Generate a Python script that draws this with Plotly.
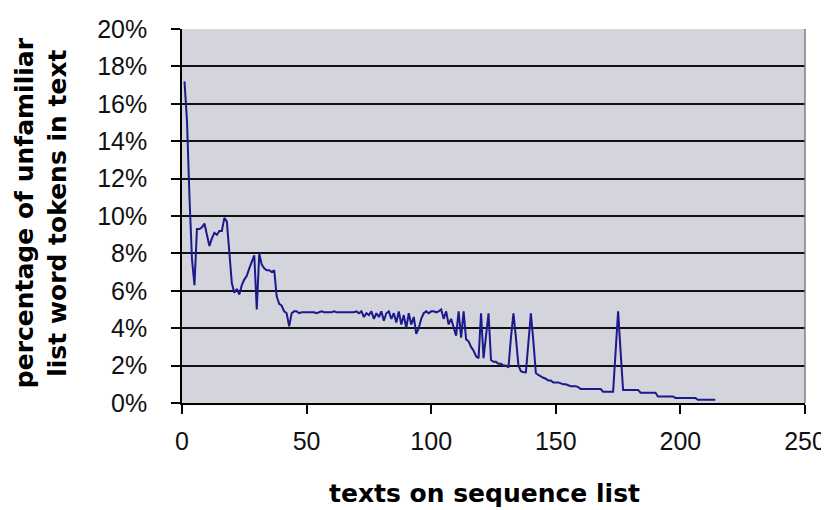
import plotly.graph_objects as go

# texts on sequence list (x) and percentage of unfamiliar list word tokens (y, %)
texts = list(range(1, 215))
pct = [
    17.2, 15.1, 11.0, 7.7, 6.3, 9.3, 9.3, 9.4, 9.6, 8.9,      # 1-10
    8.4, 8.8, 9.1, 9.0, 9.2, 9.2, 9.9, 9.7, 7.8, 6.4,         # 11-20
    5.9, 6.1, 5.8, 6.3, 6.6, 6.8, 7.2, 7.6, 7.9, 5.0,         # 21-30
    8.0, 7.4, 7.2, 7.1, 7.1, 7.0, 7.1, 5.7, 5.3, 5.2,         # 31-40
    4.9, 4.8, 4.1, 4.8, 4.9, 4.9, 4.8, 4.85, 4.85, 4.85,      # 41-50
    4.85, 4.85, 4.85, 4.8, 4.85, 4.9, 4.85, 4.85, 4.85, 4.85, # 51-60
    4.9, 4.85, 4.85, 4.85, 4.85, 4.85, 4.85, 4.85, 4.85, 4.9, # 61-70
    4.8, 4.9, 4.6, 4.8, 4.7, 4.9, 4.5, 4.8, 4.6, 4.9,         # 71-80
    4.4, 4.8, 4.9, 4.5, 4.8, 4.3, 4.9, 4.2, 4.7, 4.0,         # 81-90
    4.8, 4.2, 4.6, 3.7, 4.0, 4.5, 4.8, 4.9, 4.8, 4.9,         # 91-100
    4.9, 4.85, 4.9, 5.0, 4.5, 4.9, 4.2, 4.5, 4.0, 3.6,        # 101-110
    4.9, 3.5, 4.9, 3.4, 3.3, 3.0, 2.8, 2.5, 2.4, 4.8,         # 111-120
    2.4, 3.7, 4.8, 2.3, 2.2, 2.2, 2.1, 2.1, 2.0, 2.0,         # 121-130
    1.9, 3.5, 4.8, 3.5, 2.0, 1.7, 1.65, 1.65, 3.3, 4.8,       # 131-140
    3.3, 1.6, 1.5, 1.4, 1.35, 1.3, 1.2, 1.2, 1.1, 1.1,        # 141-150
    1.1, 1.05, 1.0, 1.0, 0.95, 0.9, 0.9, 0.9, 0.85, 0.75,     # 151-160
    0.75, 0.75, 0.75, 0.75, 0.75, 0.75, 0.75, 0.75, 0.6, 0.6, # 161-170
    0.6, 0.6, 0.6, 2.75, 4.9, 2.75, 0.7, 0.7, 0.7, 0.7,       # 171-180
    0.7, 0.7, 0.7, 0.55, 0.55, 0.55, 0.55, 0.55, 0.55, 0.55,  # 181-190
    0.35, 0.35, 0.35, 0.35, 0.35, 0.35, 0.35, 0.27, 0.27, 0.27, # 191-200
    0.27, 0.27, 0.27, 0.27, 0.27, 0.27, 0.17, 0.17, 0.17, 0.17, # 201-210
    0.17, 0.17, 0.17, 0.17,                                    # 211-214
]

x_ticks = [0, 50, 100, 150, 200, 250]
y_ticks = [0, 2, 4, 6, 8, 10, 12, 14, 16, 18, 20]
y_labels = [f"{v}%" for v in y_ticks]

fig = go.Figure()
fig.add_trace(go.Scatter(
    x=texts, y=pct, mode="lines",
    line=dict(color="#1A1A8C", width=2),
    showlegend=False,
))

tick_font = dict(family="Liberation Sans, Arial, sans-serif", size=25, color="#111111")
title_font = dict(family="DejaVu Sans, Verdana, sans-serif", size=25, color="#000000")

# the page body adds an 8px offset, so the figure is sized 8px smaller
fig.update_layout(
    width=821, height=502,
    margin=dict(l=174, r=24, t=21, b=107),
    paper_bgcolor="white",
    plot_bgcolor="#D4D4DC",
    xaxis=dict(
        range=[0, 250], tickvals=x_ticks, ticktext=[str(v) for v in x_ticks],
        showgrid=False, zeroline=False, automargin=False,
        showline=True, linecolor="#000000", linewidth=1.5,
        ticks="outside", ticklen=9, tickwidth=1.5, tickcolor="#000000",
        tickfont=tick_font, ticklabelstandoff=6,
    ),
    yaxis=dict(
        range=[0, 20], tickvals=y_ticks, ticktext=y_labels,
        showgrid=True, gridcolor="#111111", gridwidth=2, zeroline=False,
        automargin=False,
        showline=True, linecolor="#000000", linewidth=1.5,
        ticks="outside", ticklen=9, tickwidth=1.5, tickcolor="#000000",
        tickfont=tick_font, ticklabelstandoff=19,
    ),
    annotations=[
        dict(text="<b>percentage of unfamiliar<br>list word tokens in text</b>",
             xref="paper", yref="paper", x=-0.226, y=0.508,
             xanchor="center", yanchor="middle", textangle=-90,
             showarrow=False, font=title_font),
        dict(text="<b>texts on sequence list</b>",
             xref="paper", yref="paper", x=0.486, y=-0.243,
             xanchor="center", yanchor="middle",
             showarrow=False, font=title_font),
    ],
    shapes=[
        dict(type="line", xref="paper", yref="paper", x0=1, x1=1, y0=0, y1=1,
             line=dict(color="#808080", width=1.5)),
    ],
)

fig.write_html("out.html")
